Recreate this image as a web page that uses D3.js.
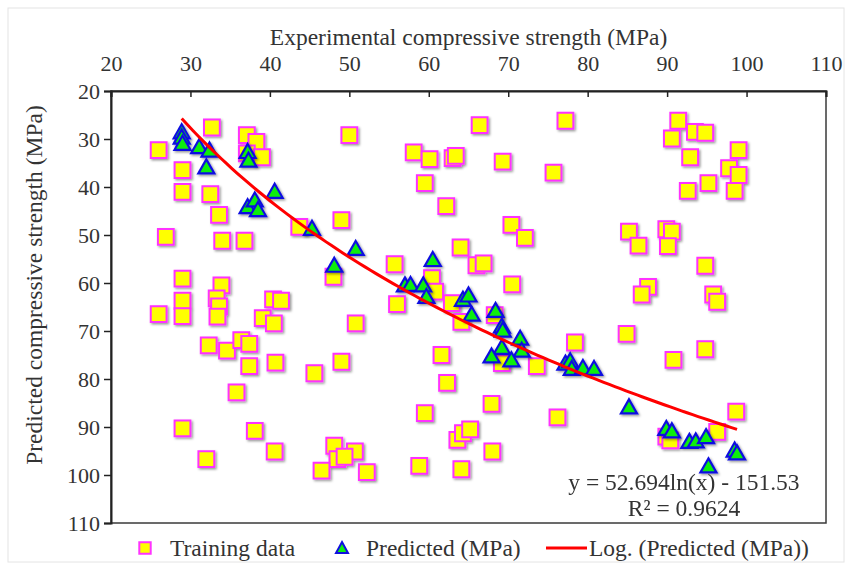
<!DOCTYPE html>
<html>
<head>
<meta charset="utf-8">
<script src="https://cdn.jsdelivr.net/npm/d3@7"></script>
<style>
  body { margin: 0; background: #fff; }
  text { font-family: "Liberation Serif", "Times New Roman", serif; fill: #333; }
</style>
</head>
<body>
<div id="chart"></div>
<script>
const width = 852,
      height = 570;
const margin = {top: 91, right: 26, bottom: 47, left: 111};

// tick labels
const xTicks = [20, 30, 40, 50, 60, 70, 80, 90, 100, 110];
const yTicks = [20, 30, 40, 50, 60, 70, 80, 90, 100, 110];

// training data: experimental (x), predicted (y)
const trainX = [26.0, 32.7, 37.1, 38.3, 37.1, 39.0, 29.0, 29.0, 32.5, 33.6, 26.9, 34.0, 36.8, 43.7, 49.0, 50.0,
  29.0, 33.9, 29.0, 33.3, 33.6, 33.4, 26.0, 29.0, 40.4, 41.4, 39.1, 40.5, 48.0, 50.8,
  32.3, 34.6, 36.4, 37.4, 37.4, 40.7, 45.6, 49.0, 35.8, 29.0, 38.1, 32.0, 40.6, 48.1, 48.5, 46.5, 50.7, 49.4, 52.2,
  66.4, 77.2, 58.1, 60.1, 63.0, 63.4, 69.3, 75.7, 59.5, 62.2, 70.4, 72.1, 64.0, 55.7, 66.0, 66.9, 70.5, 60.4, 60.8, 56.0, 62.9,
  64.1, 68.3, 61.6, 78.4, 69.2, 73.6, 62.3, 67.9, 59.5, 76.2, 63.6, 64.3, 65.2, 68.0, 58.8, 64.1,
  91.4, 90.6, 93.5, 94.8, 99.0, 92.9, 97.8, 99.0, 95.2, 92.6, 98.5, 85.2, 86.4, 89.9, 90.6, 90.1, 94.8, 87.6, 86.8, 95.8, 96.3,
  84.9, 90.8, 94.8, 98.7, 96.3, 89.9, 90.4];
const trainY = [32.3, 27.6, 29.2, 30.6, 33.0, 33.8, 36.5, 41.0, 41.5, 45.8, 50.4, 51.2, 51.2, 48.3, 46.9, 29.2,
  59.1, 60.5, 63.7, 63.2, 64.9, 67.0, 66.5, 66.9, 63.4, 63.7, 67.3, 68.4, 58.7, 68.4,
  73.0, 74.1, 71.9, 72.7, 77.3, 76.6, 78.8, 76.4, 82.8, 90.3, 90.8, 96.7, 95.1, 93.9, 96.7, 99.1, 95.1, 96.2, 99.4,
  27.1, 26.2, 32.8, 34.2, 34.0, 33.5, 34.7, 37.0, 39.2, 44.0, 47.9, 50.6, 52.6, 56.1, 56.3, 55.9, 60.3, 59.0, 61.8, 64.4, 64.2,
  68.1, 66.7, 75.0, 72.4, 76.7, 77.3, 80.8, 85.2, 87.1, 88.0, 92.7, 91.3, 90.5, 95.1, 98.1, 98.8,
  26.2, 29.9, 28.5, 28.7, 32.3, 33.8, 36.1, 37.5, 39.2, 40.8, 40.8, 49.3, 52.2, 48.8, 49.3, 52.3, 56.4, 60.8, 62.4, 62.4, 63.9,
  70.6, 76.0, 73.8, 86.8, 91.0, 92.0, 92.8];

// predicted series
const predX = [28.9, 28.9, 29.0, 31.1, 32.4, 32.0, 37.2, 37.3, 40.6, 37.2, 38.1, 38.5, 45.3, 50.8, 48.1,
  60.5, 57.0, 57.7, 59.3, 59.7, 64.3, 65.0, 65.4, 68.4, 69.2, 69.3, 71.5, 71.7, 69.2, 67.9, 70.4,
  77.2, 77.8, 78.0, 79.4, 80.8, 85.2, 89.9, 90.6, 92.8, 93.6, 94.9, 98.5, 98.8, 95.2];
const predY = [28.5, 29.6, 30.9, 31.6, 32.3, 35.8, 32.6, 34.4, 40.9, 44.1, 42.7, 44.7, 48.6, 52.8, 56.3,
  55.1, 60.4, 60.3, 60.4, 62.8, 63.4, 62.5, 66.5, 65.7, 69.0, 69.8, 71.5, 74.0, 73.4, 75.2, 76.0,
  76.7, 76.2, 77.8, 77.6, 77.8, 85.8, 90.3, 90.8, 93.0, 92.9, 92.0, 94.8, 95.4, 98.1];

// logarithmic trendline y = a ln(x) + b
const trendA = 52.694,
      trendB = -151.53;

const svg = d3.select("#chart")
  .append("svg")
  .attr("width", width)
  .attr("height", height);

const defs = svg.append("defs");
const shadow = defs.append("filter")
  .attr("id", "shadow")
  .attr("x", "-50%").attr("y", "-50%")
  .attr("width", "200%").attr("height", "200%");
shadow.append("feDropShadow")
  .attr("dx", 1.5).attr("dy", 1.5)
  .attr("stdDeviation", 1.3)
  .attr("flood-color", "#000")
  .attr("flood-opacity", 0.4);

// chart area border
svg.append("rect")
  .attr("x", 8).attr("y", 8)
  .attr("width", width - 16).attr("height", height - 16)
  .attr("fill", "none")
  .attr("stroke", "#e4e4e4");

const x = d3.scaleLinear()
  .domain([20, 110])
  .range([margin.left, width - margin.right]);

const y = d3.scaleLinear()
  .domain([20, 110])
  .range([margin.top, height - margin.bottom]);

// plot area frame (right & bottom)
svg.append("rect")
  .attr("x", x(20)).attr("y", y(20))
  .attr("width", x(110) - x(20)).attr("height", y(110) - y(20))
  .attr("fill", "#fff")
  .attr("stroke", "#3a3a3a")
  .attr("stroke-width", 1.5);

// top axis
const xAxis = svg.append("g")
  .attr("transform", `translate(0,${y(20)})`)
  .call(d3.axisTop(x).tickValues(xTicks).tickSize(-6).tickPadding(20));
xAxis.select(".domain").attr("stroke", "#222").attr("stroke-width", 2);
xAxis.selectAll(".tick line").attr("stroke", "#222").attr("stroke-width", 1.5);
xAxis.selectAll(".tick text")
  .style("font-family", '"Liberation Serif", serif')
  .style("font-size", "22px")
  .attr("fill", "#333");

// left axis
const yAxis = svg.append("g")
  .attr("transform", `translate(${x(20)},0)`)
  .call(d3.axisLeft(y).tickValues(yTicks).tickSize(7).tickPadding(4));
yAxis.select(".domain").attr("stroke", "#222").attr("stroke-width", 2);
yAxis.selectAll(".tick line").attr("stroke", "#222").attr("stroke-width", 1.5);
yAxis.selectAll(".tick text")
  .style("font-family", '"Liberation Serif", serif')
  .style("font-size", "22px")
  .attr("fill", "#333");

// axis titles
svg.append("text")
  .attr("x", (x(20) + x(110)) / 2)
  .attr("y", 45)
  .attr("text-anchor", "middle")
  .style("font-size", "23.5px")
  .text("Experimental compressive strength (MPa)");

svg.append("text")
  .attr("transform", `translate(42,${(y(20) + y(110)) / 2 - 22}) rotate(-90)`)
  .attr("text-anchor", "middle")
  .style("font-size", "23.5px")
  .text("Predicted compressive strength (MPa)");

const square = d3.symbol().type(d3.symbolSquare).size(250);
const triangle = "M0,-7.5L8,6.5L-8,6.5Z";

// training data
svg.append("g")
  .attr("filter", "url(#shadow)")
  .selectAll("path")
  .data(d3.range(trainX.length))
  .join("path")
  .attr("d", square)
  .attr("transform", i => `translate(${x(trainX[i])},${y(trainY[i])})`)
  .attr("fill", "#ffff00")
  .attr("stroke", "#ff33ff")
  .attr("stroke-width", 2);

// predicted
svg.append("g")
  .attr("filter", "url(#shadow)")
  .selectAll("path")
  .data(d3.range(predX.length))
  .join("path")
  .attr("d", triangle)
  .attr("transform", i => `translate(${x(predX[i])},${y(predY[i])})`)
  .attr("fill", "#11ee11")
  .attr("stroke", "#1010e0")
  .attr("stroke-width", 2.2)
  .attr("stroke-linejoin", "miter");

// log trendline
const tMin = d3.min(predX),
      tMax = d3.max(predX);
const trend = d3.range(0, 101).map(k => {
  const xv = tMin + (tMax - tMin) * k / 100;
  return [xv, trendA * Math.log(xv) + trendB];
});
svg.append("path")
  .datum(trend)
  .attr("d", d3.line().x(d => x(d[0])).y(d => y(d[1])))
  .attr("fill", "none")
  .attr("stroke", "#ff0000")
  .attr("stroke-width", 3);

// equation
svg.append("text")
  .attr("x", 684).attr("y", 490)
  .attr("text-anchor", "middle")
  .style("font-size", "23.5px")
  .text(`y = ${trendA}ln(x) - ${Math.abs(trendB)}`);
svg.append("text")
  .attr("x", 684).attr("y", 516)
  .attr("text-anchor", "middle")
  .style("font-size", "23.5px")
  .text("R² = 0.9624");

// legend
const legend = svg.append("g").attr("transform", "translate(0,548)");
legend.append("path")
  .attr("d", d3.symbol().type(d3.symbolSquare).size(130))
  .attr("transform", "translate(145,0)")
  .attr("fill", "#ffff00").attr("stroke", "#ff33ff").attr("stroke-width", 2);
legend.append("text").attr("x", 170).attr("y", 8).style("font-size", "23.5px").text("Training data");

legend.append("path")
  .attr("d", "M0,-6L6,5L-6,5Z")
  .attr("transform", "translate(342,0)")
  .attr("fill", "#11ee11").attr("stroke", "#1010e0").attr("stroke-width", 2);
legend.append("text").attr("x", 366).attr("y", 8).style("font-size", "23.5px").text("Predicted (MPa)");

legend.append("line")
  .attr("x1", 546).attr("x2", 587).attr("y1", 0).attr("y2", 0)
  .attr("stroke", "#ff0000").attr("stroke-width", 3);
legend.append("text").attr("x", 589).attr("y", 8).style("font-size", "23.5px").text("Log. (Predicted (MPa))");
</script>
</body>
</html>
